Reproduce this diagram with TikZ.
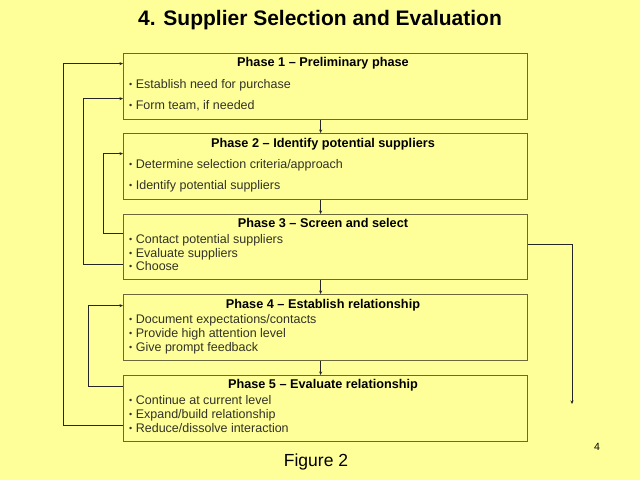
\documentclass[tikz,border=0pt]{standalone}
\usepackage{fontspec}
\setmainfont{Liberation Sans}
\usetikzlibrary{arrows.meta}
\definecolor{bgyellow}{RGB}{255,255,153}
\definecolor{boxedge}{RGB}{105,105,60}
\definecolor{txtgray}{RGB}{50,50,40}
\newcommand{\bul}{\raisebox{1.2pt}{\fontsize{9}{10}\selectfont •}\hspace{3.5pt}}
\tikzset{
  phasebox/.style={draw=boxedge, line width=1.2pt, fill=bgyellow, minimum width=404pt, minimum height=66pt, inner sep=0pt, anchor=north west},
  phasetitle/.style={font=\fontsize{12.7}{14}\selectfont\bfseries, text=black, inner sep=0pt, text height=9pt, text depth=2.5pt},
  bullet/.style={font=\fontsize{12.5}{14}\selectfont, text=txtgray, inner sep=0pt, anchor=west, text height=9pt, text depth=2.5pt},
  arr/.style={draw=black!85, line width=0.8pt, -{Stealth[length=3.5pt,width=3pt]}}
}
\begin{document}
\begin{tikzpicture}[x=1pt,y=-1pt]
\fill[bgyellow] (0,0) rectangle (640,480);
\useasboundingbox (0,0) rectangle (640,480);

\node[font=\fontsize{21}{24}\selectfont\bfseries, inner sep=0pt] (title) at (320,20) {4. Supplier Selection and Evaluation};

\node[phasebox] (b1) at (123,53) {};
\node[phasebox] (b2) at (123,133) {};
\node[phasebox, minimum height=65pt] (b3) at (123,214) {};
\node[phasebox] (b4) at (123,294) {};
\node[phasebox] (b5) at (123,375) {};

\node[phasetitle] (t1) at (323,63.5) {Phase 1 – Preliminary phase};
\node[bullet] (p1a) at (129,85) {\bul Establish need for purchase};
\node[bullet] (p1b) at (129,106.5) {\bul Form team, if needed};

\node[phasetitle] (t2) at (323,144) {Phase 2 – Identify potential suppliers};
\node[bullet] (p2a) at (129,165.5) {\bul Determine selection criteria/approach};
\node[bullet] (p2b) at (129,186.5) {\bul Identify potential suppliers};

\node[phasetitle] (t3) at (323,224.5) {Phase 3 – Screen and select};
\node[bullet] (p3a) at (129,240.5) {\bul Contact potential suppliers};
\node[bullet] (p3b) at (129,254) {\bul Evaluate suppliers};
\node[bullet] (p3c) at (129,267.5) {\bul Choose};

\node[phasetitle] (t4) at (323,305) {Phase 4 – Establish relationship};
\node[bullet] (p4a) at (129,320.5) {\bul Document expectations/contacts};
\node[bullet] (p4b) at (129,334.5) {\bul Provide high attention level};
\node[bullet] (p4c) at (129,348.5) {\bul Give prompt feedback};

\node[phasetitle] (t5) at (323,385.5) {Phase 5 – Evaluate relationship};
\node[bullet] (p5a) at (129,401.5) {\bul Continue at current level};
\node[bullet] (p5b) at (129,415) {\bul Expand/build relationship};
\node[bullet] (p5c) at (129,429) {\bul Reduce/dissolve interaction};

% down arrows
\draw[arr] ([xshift=-5pt]b1.south) -- ([xshift=-5pt]b2.north);
\draw[arr] ([xshift=-5pt]b2.south) -- ([xshift=-5pt]b3.north);
\draw[arr] ([xshift=-5pt]b3.south) -- ([xshift=-5pt]b4.north);
\draw[arr] ([xshift=-5pt]b4.south) -- ([xshift=-5pt]b5.north);

% feedback loops
\draw[arr] ([yshift=-17pt]b5.west) -- ++(-60,0) |- ([yshift=23pt]b1.west);
\draw[arr] ([yshift=-17.5pt]b3.west) -- ++(-40,0) |- ([yshift=-12pt]b1.west);
\draw[arr] ([yshift=13.5pt]b3.west) -- ++(-20,0) |- ([yshift=13pt]b2.west);
\draw[arr] ([yshift=22pt]b5.west) -- ++(-35,0) |- ([yshift=22pt]b4.west);

% exit arrow
\coordinate (exitend) at (572,404);
\draw[arr] ([yshift=2.5pt]b3.east) -| (exitend);

\node[font=\fontsize{17.5}{20}\selectfont, inner sep=0pt] (fig) at (316,462) {Figure 2};
\node[font=\fontsize{10.5}{12}\selectfont, inner sep=0pt] (pg) at (597,447) {4};
\end{tikzpicture}
\end{document}
